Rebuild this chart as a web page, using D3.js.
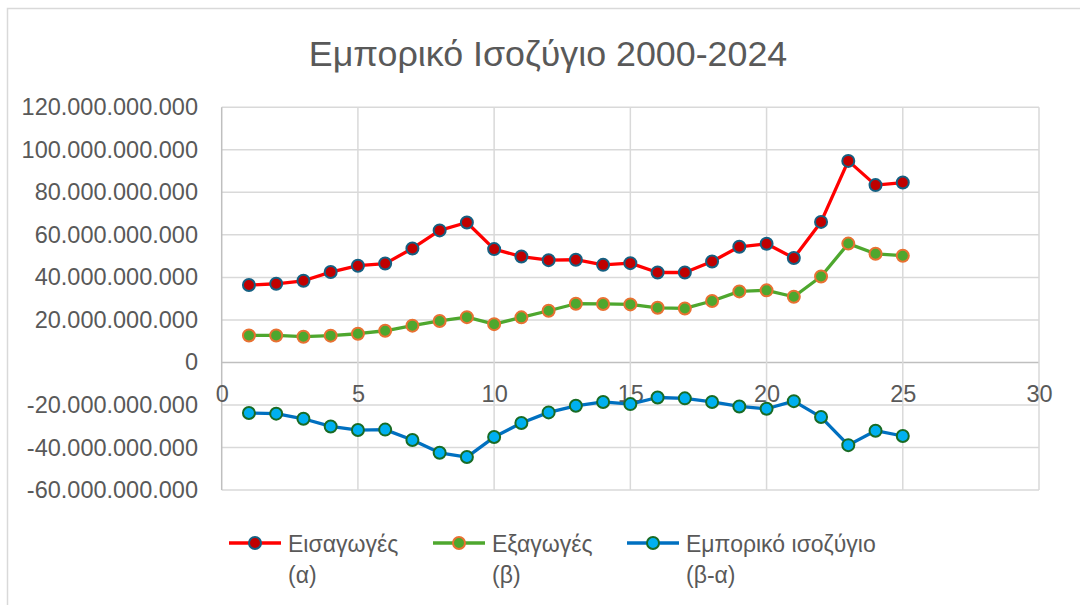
<!DOCTYPE html>
<html><head><meta charset="utf-8">
<script src="https://cdn.jsdelivr.net/npm/d3@7"></script>
<style>
html,body{margin:0;padding:0;background:#fff;}
svg{display:block;font-family:"Liberation Sans",Arial,sans-serif;}
</style></head>
<body><svg id="c" width="1080" height="605"></svg>
<script>
const title = "Εμπορικό Ισοζύγιο 2000-2024";
const xValues = [1,2,3,4,5,6,7,8,9,10,11,12,13,14,15,16,17,18,19,20,21,22,23,24,25];
const imports = [36.4e9,37.0e9,38.4e9,42.5e9,45.5e9,46.5e9,53.6e9,62.1e9,65.8e9,53.3e9,49.8e9,48.1e9,48.3e9,45.9e9,46.7e9,42.3e9,42.3e9,47.5e9,54.4e9,55.8e9,49.1e9,66.1e9,94.8e9,83.4e9,84.6e9];
const exportsV = [12.7e9,12.7e9,12.1e9,12.6e9,13.5e9,14.9e9,17.3e9,19.5e9,21.3e9,18.0e9,21.2e9,24.3e9,27.6e9,27.5e9,27.3e9,25.7e9,25.4e9,28.9e9,33.4e9,33.9e9,30.9e9,40.4e9,55.9e9,51.1e9,50.2e9];
const balance = [-23.8e9,-24.1e9,-26.5e9,-30.1e9,-31.8e9,-31.6e9,-36.5e9,-42.5e9,-44.5e9,-35.1e9,-28.5e9,-23.5e9,-20.4e9,-18.6e9,-19.6e9,-16.5e9,-16.9e9,-18.6e9,-20.7e9,-21.8e9,-18.2e9,-25.7e9,-38.9e9,-32.1e9,-34.6e9];
const seriesNames = [["Εισαγωγές","(α)"],["Εξαγωγές","(β)"],["Εμπορικό ισοζύγιο","(β-α)"]];
const yTicks = [-60e9,-40e9,-20e9,0,20e9,40e9,60e9,80e9,100e9,120e9];
const xTicks = [0,5,10,15,20,25,30];

const series = [
  {name: seriesNames[0], values: imports, line:"#FF0000", fill:"#C00000", stroke:"#156082"},
  {name: seriesNames[1], values: exportsV, line:"#4EA72E", fill:"#4EA72E", stroke:"#E97132"},
  {name: seriesNames[2], values: balance, line:"#0070C0", fill:"#00B0F0", stroke:"#196B24"}
];

const svg = d3.select("#c");
const L = 221.7, R = 1039, T = 107.3, B = 490;
const x = d3.scaleLinear().domain([0,30]).range([L,R]);
const y = d3.scaleLinear().domain([-60e9,120e9]).range([B,T]);
const loc = d3.formatLocale({decimal:",",thousands:".",grouping:[3],currency:["","€"],minus:"-"});
const fmt = loc.format(",.0f");

// chart border
svg.append("rect").attr("x",7.5).attr("y",8.5).attr("width",1200).attr("height",800)
  .attr("fill","none").attr("stroke","#D9D9D9").attr("stroke-width",1.5);

// title
svg.append("text").attr("x",548).attr("y",65.5).attr("text-anchor","middle")
  .attr("font-size",35.8).attr("fill","#595959").text(title);

// gridlines
const g = svg.append("g");
g.selectAll("line.h").data(yTicks).join("line")
  .attr("x1",L).attr("x2",R).attr("y1",d=>y(d)).attr("y2",d=>y(d))
  .attr("stroke",d=>d===0?"#BFBFBF":"#D9D9D9").attr("stroke-width",1.5);
g.selectAll("line.v").data(xTicks).join("line")
  .attr("y1",T).attr("y2",B).attr("x1",d=>x(d)).attr("x2",d=>x(d))
  .attr("stroke",d=>d===0?"#BFBFBF":"#D9D9D9").attr("stroke-width",1.5);

// y axis labels
const yAxis = d3.axisLeft(y).tickValues(yTicks).tickFormat(fmt).tickSize(0).tickPadding(0);
const ya = svg.append("g").attr("transform",`translate(198,0)`).call(yAxis);
ya.select(".domain").remove();
ya.selectAll("text").attr("font-size",23.5).attr("fill","#595959")
  .attr("font-family","Liberation Sans, Arial, sans-serif");

// x axis labels
const xAxis = d3.axisBottom(x).tickValues(xTicks).tickFormat(d3.format("d")).tickSize(0).tickPadding(0);
const xa = svg.append("g").attr("transform",`translate(0,${y(0)+32})`).call(xAxis);
xa.select(".domain").remove();
xa.selectAll("text").attr("font-size",23.5).attr("fill","#595959")
  .attr("font-family","Liberation Sans, Arial, sans-serif").attr("dy","0.32em");

// lines and markers
const line = d3.line().x((d,i)=>x(xValues[i])).y(d=>y(d));
series.forEach(s=>{
  svg.append("path").datum(s.values).attr("d",line).attr("fill","none")
    .attr("stroke",s.line).attr("stroke-width",3.3).attr("stroke-linejoin","round");
  svg.append("g").selectAll("circle").data(s.values).join("circle")
    .attr("cx",(d,i)=>x(xValues[i])).attr("cy",d=>y(d)).attr("r",6)
    .attr("fill",s.fill).attr("stroke",s.stroke).attr("stroke-width",2);
});

// legend
const legX = [229, 433, 627];
series.forEach((s,i)=>{
  const lg = svg.append("g").attr("transform",`translate(${legX[i]},543)`);
  lg.append("line").attr("x1",0).attr("x2",52).attr("y1",0).attr("y2",0)
    .attr("stroke",s.line).attr("stroke-width",3.3);
  lg.append("circle").attr("cx",26).attr("cy",0).attr("r",6)
    .attr("fill",s.fill).attr("stroke",s.stroke).attr("stroke-width",2);
  const t = lg.append("text").attr("x",59).attr("y",9).attr("font-size",23).attr("fill","#595959");
  t.append("tspan").attr("x",59).attr("dy",0).text(s.name[0]);
  t.append("tspan").attr("x",59).attr("dy",31).text(s.name[1]);
});
</script></body></html>
